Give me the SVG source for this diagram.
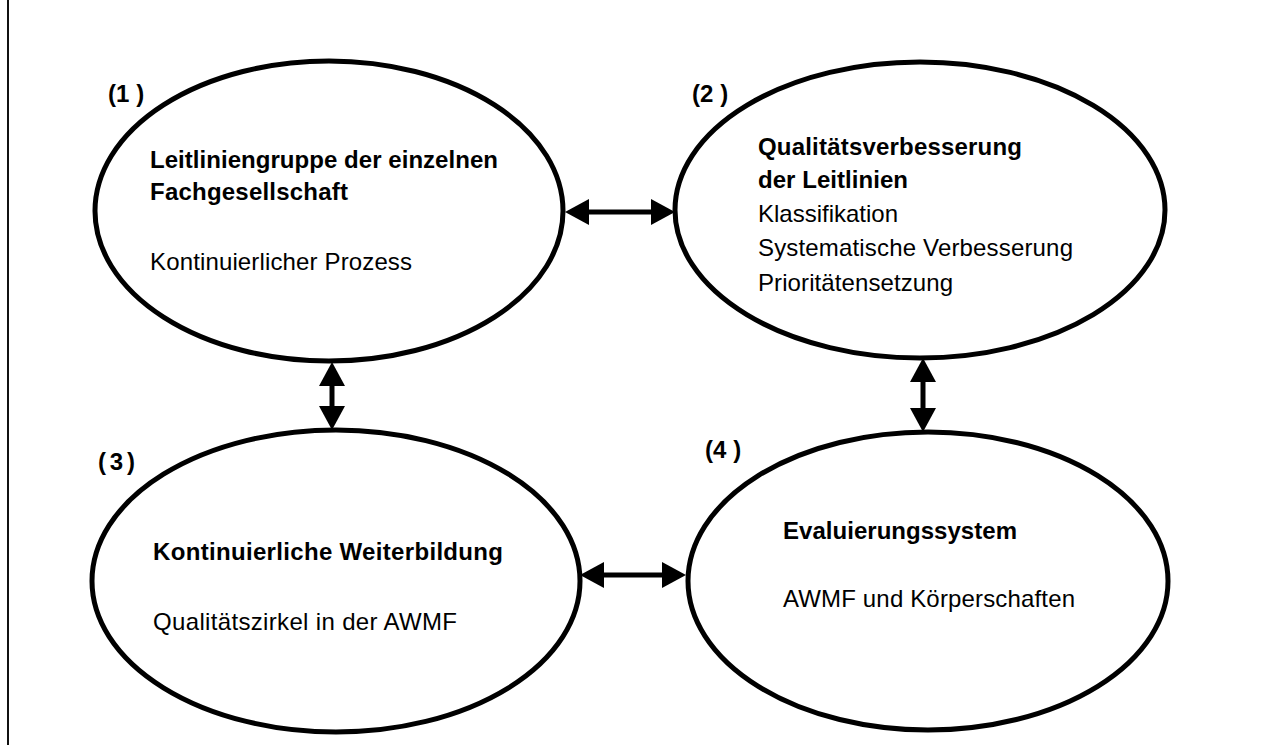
<svg xmlns="http://www.w3.org/2000/svg" width="1265" height="745" viewBox="0 0 1265 745">
<style>
.bg{fill:#fff}
.ell{fill:none;stroke:#000;stroke-width:5}
.t{font-family:"Liberation Sans",Arial,sans-serif;font-size:24px;fill:#000}
.b{font-weight:bold}
.con{stroke:#000;stroke-width:5;fill:none;marker-start:url(#ah);marker-end:url(#ah)}
</style>
<defs>
<marker id="ah" viewBox="0 0 24 26" refX="14" refY="13" markerWidth="24" markerHeight="26" markerUnits="userSpaceOnUse" orient="auto-start-reverse">
<path d="M0,0 L24,13 L0,26 z" fill="#000"/>
</marker>
</defs>
<rect class="bg" x="0" y="0" width="1265" height="745"/>
<line x1="8" y1="0" x2="8" y2="745" stroke="#111" stroke-width="2"/>

<g id="node1">
<ellipse class="ell" cx="329" cy="211" rx="234" ry="150"/>
<text class="t b" x="108" y="102">(1<tspan dx="7">)</tspan></text>
<text class="t b" x="150" y="168" textLength="348" lengthAdjust="spacing">Leitliniengruppe der einzelnen</text>
<text class="t b" x="150" y="200" textLength="198" lengthAdjust="spacing">Fachgesellschaft</text>
<text class="t" x="150" y="270" textLength="262" lengthAdjust="spacing">Kontinuierlicher Prozess</text>
</g>

<g id="node2">
<ellipse class="ell" cx="920" cy="210" rx="245" ry="148"/>
<text class="t b" x="692" y="102">(2<tspan dx="7">)</tspan></text>
<text class="t b" x="758" y="155" textLength="264" lengthAdjust="spacing">Qualitätsverbesserung</text>
<text class="t b" x="758" y="188" textLength="150" lengthAdjust="spacing">der Leitlinien</text>
<text class="t" x="758" y="222" textLength="140" lengthAdjust="spacing">Klassifikation</text>
<text class="t" x="758" y="256" textLength="315" lengthAdjust="spacing">Systematische Verbesserung</text>
<text class="t" x="758" y="291" textLength="195" lengthAdjust="spacing">Prioritätensetzung</text>
</g>

<g id="node3">
<ellipse class="ell" cx="336" cy="581" rx="244" ry="151"/>
<text class="t b" x="98" y="470" textLength="37" lengthAdjust="spacing">(3)</text>
<text class="t b" x="153" y="560" textLength="350" lengthAdjust="spacing">Kontinuierliche Weiterbildung</text>
<text class="t" x="153" y="630" textLength="304" lengthAdjust="spacing">Qualitätszirkel in der AWMF</text>
</g>

<g id="node4">
<ellipse class="ell" cx="928" cy="581" rx="240" ry="149"/>
<text class="t b" x="705" y="458">(4<tspan dx="7">)</tspan></text>
<text class="t b" x="783" y="539" textLength="234" lengthAdjust="spacing">Evaluierungssystem</text>
<text class="t" x="783" y="607" textLength="292" lengthAdjust="spacing">AWMF und Körperschaften</text>
</g>

<g id="connectors">
<line class="con" x1="575" y1="212" x2="665" y2="212"/>
<line class="con" x1="332" y1="372" x2="332" y2="420"/>
<line class="con" x1="923" y1="368" x2="923" y2="422"/>
<line class="con" x1="590" y1="575" x2="676" y2="575"/>
</g>
</svg>
